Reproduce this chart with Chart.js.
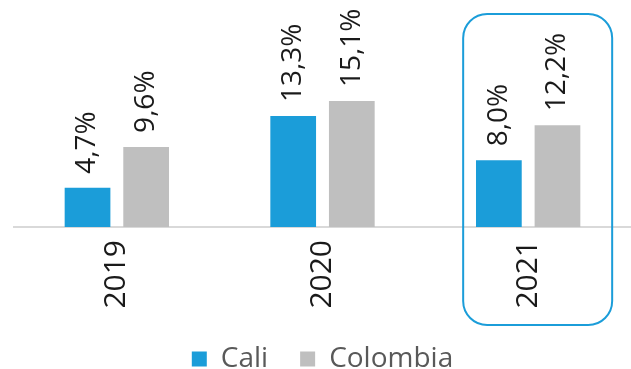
<!DOCTYPE html>
<html>
<head>
<meta charset="utf-8">
<script src="https://cdn.jsdelivr.net/npm/chart.js"></script>
<style>
  html, body { margin: 0; padding: 0; background: #fff; }
  #wrap { width: 631px; height: 369px; }
</style>
</head>
<body>
<div id="wrap"><canvas id="barChart" width="631" height="369"></canvas></div>
<script>
const years = ['2019', '2020', '2021'];
const cali = [4.7, 13.3, 8.0];
const colombia = [9.6, 15.1, 12.2];
const seriesNames = ['Cali', 'Colombia'];
const highlightYear = '2021';

const FONT = '"Open Sans", sans-serif';

// porcentaje con coma decimal
const fmt = v => v.toFixed(1).replace('.', ',') + '%';

// etiquetas verticales encima de cada barra
const valueLabels = {
  id: 'valueLabels',
  afterDatasetsDraw(chart) {
    const ctx = chart.ctx;
    ctx.save();
    ctx.font = '28px ' + FONT;
    ctx.fillStyle = '#1a1a1a';
    ctx.textAlign = 'left';
    ctx.textBaseline = 'middle';
    chart.data.datasets.forEach((ds, i) => {
      chart.getDatasetMeta(i).data.forEach((bar, j) => {
        ctx.save();
        ctx.translate(bar.x, bar.y - 14);
        ctx.rotate(-Math.PI / 2);
        ctx.fillText(fmt(ds.data[j]), 0, 0);
        ctx.restore();
      });
    });
    ctx.restore();
  }
};

// recuadro redondeado alrededor del año destacado
const highlightBox = {
  id: 'highlightBox',
  afterDraw(chart) {
    const x = chart.scales.x;
    const area = chart.chartArea;
    const cx = x.getPixelForValue(years.indexOf(highlightYear));
    const left = cx - 65, right = cx + 84;
    const top = area.top + 14, bottom = area.bottom + 98;
    const ctx = chart.ctx;
    ctx.save();
    ctx.strokeStyle = '#1b9dd9';
    ctx.lineWidth = 2;
    ctx.beginPath();
    ctx.roundRect(left, top, right - left, bottom - top, 24);
    ctx.stroke();
    ctx.restore();
  }
};

function draw() {
  new Chart(document.getElementById('barChart').getContext('2d'), {
    type: 'bar',
    data: {
      labels: years,
      datasets: [
        { label: seriesNames[0], data: cali, backgroundColor: '#1b9dd9' },
        { label: seriesNames[1], data: colombia, backgroundColor: '#bfbfbf' }
      ]
    },
    options: {
      responsive: false,
      animation: false,
      categoryPercentage: 0.57,
      barPercentage: 0.78,
      layout: { padding: { left: 14, right: 0, top: 0, bottom: -14 } },
      scales: {
        x: {
          grid: { display: false },
          border: { display: true, color: '#d9d9d9', width: 2 },
          ticks: {
            minRotation: 90,
            maxRotation: 90,
            padding: 5,
            color: '#1a1a1a',
            font: { family: FONT, size: 30 }
          },
          afterFit(scale) {
            scale.height = 86;
          }
        },
        y: { display: false, min: 0, max: 27.2 }
      },
      plugins: {
        legend: {
          position: 'bottom',
          fullSize: false,
          labels: {
            boxWidth: 15,
            boxHeight: 15,
            padding: 32,
            color: '#595959',
            font: { family: FONT, size: 28 }
          }
        },
        tooltip: { enabled: false }
      }
    },
    plugins: [valueLabels, highlightBox]
  });
}

document.fonts.load('28px "Open Sans"').then(draw, draw);
</script>
</body>
</html>
